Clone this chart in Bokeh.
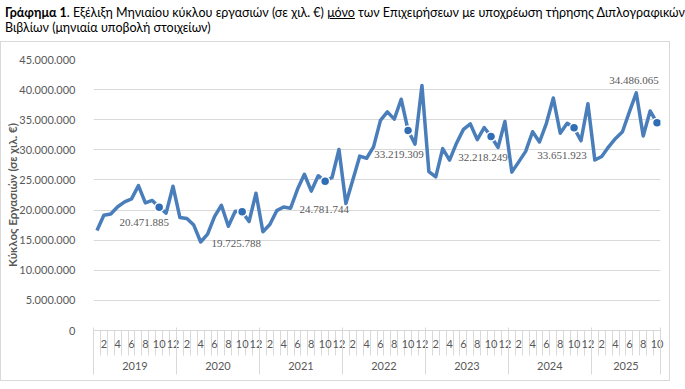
from bokeh.plotting import figure
from bokeh.models import ColumnDataSource, LinearAxis, FixedTicker, Range1d, Div, LabelSet
from bokeh.layouts import column
from bokeh.embed import file_html
from bokeh.resources import INLINE

# ---------------- data ----------------
years = [2019, 2020, 2021, 2022, 2023, 2024, 2025]
months_per_year = [12, 12, 12, 12, 12, 12, 10]

turnover_2019 = [16600000, 19150000, 19350000, 20550000, 21350000, 21850000, 24050000, 21200000, 21600000, 20471885, 19500000, 23950000]
turnover_2020 = [18750000, 18600000, 17500000, 14700000, 16000000, 18900000, 20800000, 17300000, 19800000, 19725788, 18100000, 22800000]
turnover_2021 = [16400000, 17600000, 19900000, 20500000, 20300000, 23450000, 25950000, 23150000, 25700000, 24781744, 25400000, 30050000]
turnover_2022 = [21100000, 25000000, 28950000, 28600000, 30500000, 34900000, 36300000, 35100000, 38400000, 33219309, 30950000, 40700000]
turnover_2023 = [26400000, 25500000, 30200000, 28300000, 31100000, 33400000, 34300000, 31700000, 33700000, 32218249, 30400000, 34700000]
turnover_2024 = [26300000, 28000000, 29750000, 33000000, 31300000, 34400000, 38600000, 32750000, 34400000, 33651923, 31500000, 37650000]
turnover_2025 = [28300000, 28900000, 30500000, 31900000, 33000000, 36300000, 39450000, 32300000, 36450000, 34486065]

y_ticks = [0, 5000000, 10000000, 15000000, 20000000, 25000000, 30000000, 35000000, 40000000, 45000000]
labelled_month = 10  # October values are labelled

title_bold = "Γράφημα 1"
title_part1 = ". Εξέλιξη Μηνιαίου κύκλου εργασιών (σε χιλ. €) "
title_underlined = "μόνο"
title_part2 = " των Επιχειρήσεων με υποχρέωση τήρησης Διπλογραφικών"
title_line2 = "Βιβλίων (μηνιαία υποβολή στοιχείων)"
y_title = "Κύκλος Εργασιών (σε χιλ. €)"

# label offsets (pixels) for each labelled point, in order of years
label_dx = [-15, -6, -1, -9, -8, -12, -23]
label_dy = [-15, -32, -28, -24, -21, -28, 42]

# ---------------- derived ----------------
series = [turnover_2019, turnover_2020, turnover_2021, turnover_2022,
          turnover_2023, turnover_2024, turnover_2025]
idx, vals, mon, yr = [], [], [], []
for y, n, s in zip(years, months_per_year, series):
    for m in range(1, n + 1):
        idx.append((y - years[0]) * 12 + (m - 1))
        vals.append(s[m - 1])
        mon.append(m)
        yr.append(y)

def fmt(v):
    return f"{v:,}".replace(",", ".")

FONT = "Lato"
GRAY = "#d9d9d9"
TXT = "#595959"

div = Div(
    text=(f'<div style="font-family:{FONT};font-size:12.5px;line-height:15px;color:#000;white-space:nowrap;">'
          f'<b>{title_bold}</b>{title_part1}<u>{title_underlined}</u>{title_part2}<br>{title_line2}</div>'),
    width=670, height=31,
)

p = figure(width=668, height=338,
           x_range=Range1d(-0.5, idx[-1] + 0.5), y_range=Range1d(0, y_ticks[-1]),
           x_axis_type=None, output_backend="svg", toolbar_location=None,
           min_border_left=92, min_border_right=9, min_border_top=17, min_border_bottom=50)
p.outline_line_color = None
p.background_fill_color = "white"

# y axis
ya = p.yaxis[0]
ya.ticker = FixedTicker(ticks=y_ticks)
ya.major_label_overrides = {t: fmt(t) for t in y_ticks}
ya.axis_line_color = None
ya.major_tick_line_color = None
ya.minor_tick_line_color = None
ya.major_label_standoff = 12
ya.major_label_text_font = FONT
ya.major_label_text_font_size = "11px"
ya.major_label_text_color = TXT
ya.axis_label = y_title
ya.axis_label_text_font = FONT
ya.axis_label_text_font_size = "11.5px"
ya.axis_label_text_font_style = "bold"
ya.axis_label_text_color = TXT
ya.axis_label_standoff = -3

p.ygrid.ticker = FixedTicker(ticks=y_ticks)
p.ygrid.grid_line_color = GRAY

# month axis
even_ticks = [i for i, m in zip(idx, mon) if m % 2 == 0]
month_axis = LinearAxis(
    ticker=FixedTicker(ticks=even_ticks, minor_ticks=[i - 0.5 for i in idx] + [idx[-1] + 0.5]),
    major_label_overrides={i: str(m) for i, m in zip(idx, mon) if m % 2 == 0},
    axis_line_color=GRAY, major_tick_line_color=None,
    major_tick_in=0, major_tick_out=0,
    minor_tick_in=0, minor_tick_out=25, minor_tick_line_color=GRAY,
    major_label_standoff=-16, major_label_text_font=FONT,
    major_label_text_font_size="11px", major_label_text_color=TXT,
)
p.add_layout(month_axis, "below")

# year axis
year_centers, year_bounds = [], [-0.5]
for y in years:
    ii = [i for i, yy in zip(idx, yr) if yy == y]
    year_centers.append((ii[0] + ii[-1]) / 2)
    year_bounds.append(ii[-1] + 0.5)
year_axis = LinearAxis(
    ticker=FixedTicker(ticks=year_centers, minor_ticks=year_bounds),
    major_label_overrides={c: str(y) for c, y in zip(year_centers, years)},
    axis_line_color=None, major_tick_line_color=None,
    major_tick_in=0, major_tick_out=0,
    minor_tick_in=23, minor_tick_out=24, minor_tick_line_color=GRAY,
    major_label_standoff=-13, major_label_text_font=FONT,
    major_label_text_font_size="11px", major_label_text_color=TXT,
)
p.add_layout(year_axis, "below")

# line
p.line(idx, vals, line_width=3.5, line_color="#4a7ebb", line_join="round")

# labelled points
lab_x = [i for i, m in zip(idx, mon) if m == labelled_month]
lab_y = [v for v, m in zip(vals, mon) if m == labelled_month]
src = ColumnDataSource(dict(x=lab_x, y=lab_y, t=[fmt(v) for v in lab_y], dx=label_dx, dy=label_dy))
p.scatter("x", "y", source=src, size=9, fill_color="#2f6db5", line_color="white", line_width=1.5)
labels = LabelSet(x="x", y="y", text="t", source=src, x_offset="dx", y_offset="dy",
                  text_font=FONT, text_font_size="11px", text_color=TXT,
                  text_align="center", text_baseline="middle")
p.add_layout(labels)

boxed = column(p, styles={"border": "1px solid #d9d9d9"})
layout = column(div, boxed)
open("out.html", "w").write(file_html(layout, INLINE))
